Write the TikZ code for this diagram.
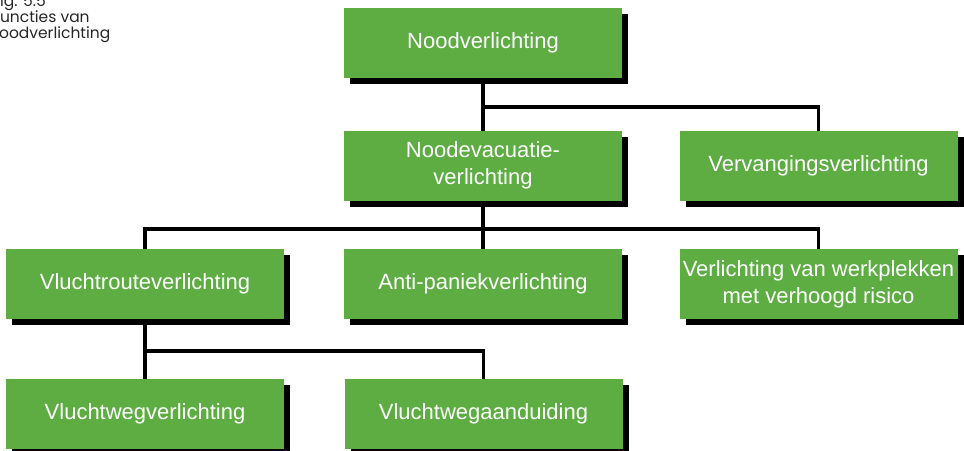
\documentclass[tikz,border=0pt]{standalone}
\usepackage{fontspec}
\setmainfont{Liberation Sans}
\newfontfamily\capfont{Poppins}
\usetikzlibrary{shadows,backgrounds}
\definecolor{boxgreen}{RGB}{93,173,67}
\tikzset{
  box/.style={rectangle, fill=boxgreen, minimum width=278pt, minimum height=70pt,
    inner sep=0pt, text=white, align=center,
    font=\fontsize{22}{27}\selectfont,
    drop shadow={opacity=1, fill=black, shadow xshift=6pt, shadow yshift=-6pt}},
  conn/.style={draw=black, line width=3.2pt},
  caption/.style={anchor=base west, inner sep=0pt, font=\capfont\fontsize{15.5}{16}\selectfont, text=black!85}
}
\begin{document}
\begin{tikzpicture}[x=1pt,y=-1pt]
\useasboundingbox (0,0) rectangle (964,450);
\node[caption] (cap1) at (-8,6) {Fig. 5.5};
\node[caption] (cap2) at (-8,22) {Functies van};
\node[caption] (cap3) at (-12,38) {Noodverlichting};

\node[box] (A) at (483,42.5) {Noodverlichting};
\node[box] (B) at (483,165.5) {Noodevacuatie-\\verlichting};
\node[box] (C) at (818.5,165.5) {Vervangingsverlichting};
\node[box] (D) at (145,284) {Vluchtrouteverlichting};
\node[box] (E) at (483,284) {Anti-paniekverlichting};
\node[box] (F) at (818.5,284) {Verlichting van werkplekken\\met verhoogd risico};
\node[box] (G) at (145,414) {Vluchtwegverlichting};
\node[box] (H) at (483.5,414) {Vluchtwegaanduiding};

\begin{scope}[on background layer]
\coordinate (j1) at (483,107);
\coordinate (j2) at (483,229);
\coordinate (j3) at (145,351);
\draw[conn] (A.center) -- (B.center);
\draw[conn] (j1) -| (C.center);
\draw[conn] (B.center) -- (E.center);
\draw[conn] (j2) -| (D.center);
\draw[conn] (j2) -| (F.center);
\draw[conn] (D.center) -- (G.center);
\draw[conn] (j3) -| (H.center);
\end{scope}
\end{tikzpicture}
\end{document}
